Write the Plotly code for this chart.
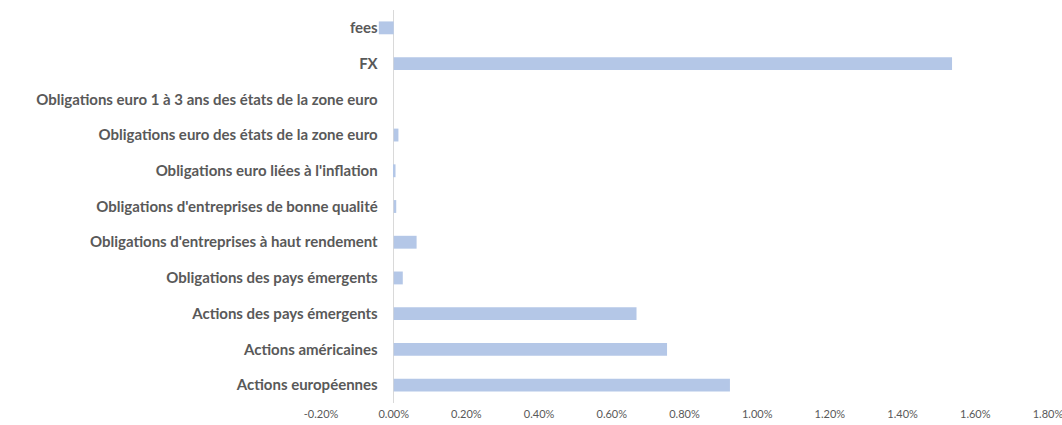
import plotly.graph_objects as go

categories = [
    "Actions européennes",
    "Actions américaines",
    "Actions des pays émergents",
    "Obligations des pays émergents",
    "Obligations d'entreprises à haut rendement",
    "Obligations d'entreprises de bonne qualité",
    "Obligations euro liées à l'inflation",
    "Obligations euro des états de la zone euro",
    "Obligations euro 1 à 3 ans des états de la zone euro",
    "FX",
    "fees",
]
values = [0.925, 0.752, 0.668, 0.025, 0.063, 0.007, 0.005, 0.013, 0.0, 1.536, -0.041]  # percent

tick_vals = [-0.2, 0.0, 0.2, 0.4, 0.6, 0.8, 1.0, 1.2, 1.4, 1.6, 1.8]
tick_text = ["-0.20%", "0.00%", "0.20%", "0.40%", "0.60%", "0.80%", "1.00%", "1.20%", "1.40%", "1.60%", "1.80%"]

x_min, x_max = -0.2, 1.8

fig = go.Figure(
    go.Bar(
        x=values,
        y=categories,
        orientation="h",
        width=0.36,
        marker=dict(color="#B4C7E7", line=dict(width=0)),
        hovertemplate="%{y}: %{x:.2f}%<extra></extra>",
    )
)

fig.update_layout(
    width=1062,
    height=425,
    margin=dict(l=321, r=14, t=10, b=22),
    paper_bgcolor="white",
    plot_bgcolor="white",
    showlegend=False,
    font=dict(family="Lato, Carlito, Calibri, sans-serif", color="#595959"),
    xaxis=dict(
        range=[x_min, x_max],
        tickvals=tick_vals,
        ticktext=tick_text,
        showgrid=False,
        zeroline=True,
        zerolinecolor="#D9D9D9",
        zerolinewidth=1,
        showline=False,
        ticks="",
        automargin=False,
        ticklabelstandoff=3,
        ticklabeloverflow="allow",
        tickfont=dict(size=11, color="#595959"),
    ),
    yaxis=dict(
        categoryorder="array",
        categoryarray=categories,
        anchor="free",
        position=(0 - x_min) / (x_max - x_min),
        showgrid=False,
        showline=False,
        ticks="",
        automargin=False,
        ticklabelstandoff=16,
        tickfont=dict(size=15, color="#595959", weight="bold"),
        range=[-0.5, len(categories) - 0.5],
    ),
)

fig.write_html("out.html")
